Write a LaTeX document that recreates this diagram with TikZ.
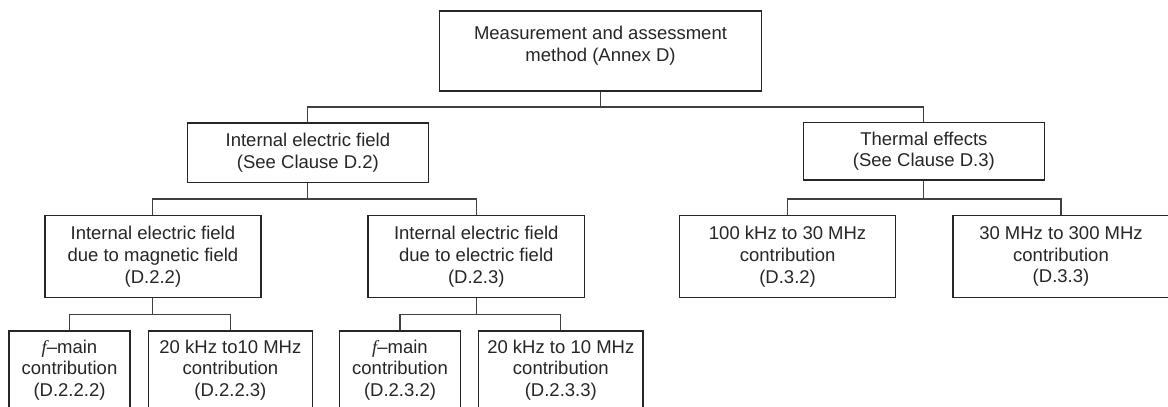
\documentclass[tikz,border=0pt]{standalone}
\usepackage{fontspec}
\setmainfont{Liberation Sans}
\newfontfamily\italf[ItalicFont={Liberation Serif Italic}]{Liberation Serif}
\newcommand{\fsym}{{\italf\itshape f}}
\begin{document}
\begin{tikzpicture}[x=0.5pt,y=-0.5pt,
  txt/.style={align=center, text=black!85, inner sep=0pt,
    font=\fontsize{9.25}{10.85}\selectfont},
  box/.style={txt, draw=black!85, line width=0.75pt},
  lvltop/.style={box, minimum width=161.15pt, minimum height=40pt},
  lvltwo/.style={box, minimum width=120.4pt},
  lvlthree/.style={box, minimum width=108.1pt, minimum height=41pt},
  narrowbox/.style={box, minimum width=60.5pt, minimum height=39pt},
  widebox/.style={box, minimum width=82.1pt, minimum height=39pt},
  link/.style={draw=black!75, line width=0.55pt}]
\useasboundingbox (0,0) rectangle (1168,407);
\clip (0,0) rectangle (1168,407);
\fill[white] (0,0) rectangle (1168,407);

% bus levels of the tree
\coordinate (b1) at (0,107);
\coordinate (b2) at (0,199);
\coordinate (b3) at (0,314.3);

% root
\node[lvltop] (top) at (600.5,51) {};
\node[txt] (toptext) at (600.5,45.5) {Measurement and assessment\\method (Annex D)};

% second level
\node[lvltwo, minimum height=29.75pt] (int) at (307.9,152.75) {Internal electric field\\(See Clause D.2)};
\node[lvltwo, minimum height=28.65pt] (therm) at (923.9,151.35) {Thermal effects\\(See Clause D.3)};

% third level
\node[lvlthree] (mag) at (152.9,256.7) {Internal electric field\\due to magnetic field\\(D.2.2)};
\node[lvlthree] (elec) at (476.3,256.7) {Internal electric field\\due to electric field\\(D.2.3)};
\node[lvlthree] (khz) at (787.6,256.7) {100 kHz to 30 MHz\\contribution\\(D.3.2)};
\node[lvlthree] (mhz) at (1061,256.7) {30 MHz to 300 MHz\\contribution\\(D.3.3)};

% fourth level
\node[narrowbox] (fma) at (69.5,370) {\fsym--main\\contribution\\(D.2.2.2)};
\node[widebox] (kza) at (230.4,370) {20 kHz to10 MHz\\contribution\\(D.2.2.3)};
\node[narrowbox] (fmb) at (400,370) {\fsym--main\\contribution\\(D.2.3.2)};
\node[widebox] (kzb) at (560.8,370) {20 kHz to 10 MHz\\contribution\\(D.2.3.3)};

% connectors
\draw[link] (top.south) -- (top.south |- b1) -| (int.north);
\draw[link] (top.south |- b1) -| (therm.north);
\draw[link] (int.south) -- (int.south |- b2) -| (mag.north);
\draw[link] (int.south |- b2) -| (elec.north);
\draw[link] (therm.south) -- (therm.south |- b2) -| (khz.north);
\draw[link] (therm.south |- b2) -| (mhz.north);
\draw[link] (mag.south) -- (mag.south |- b3) -| (fma.north);
\draw[link] (mag.south |- b3) -| (kza.north);
\draw[link] (elec.south) -- (elec.south |- b3) -| (fmb.north);
\draw[link] (elec.south |- b3) -| (kzb.north);
\end{tikzpicture}
\end{document}
